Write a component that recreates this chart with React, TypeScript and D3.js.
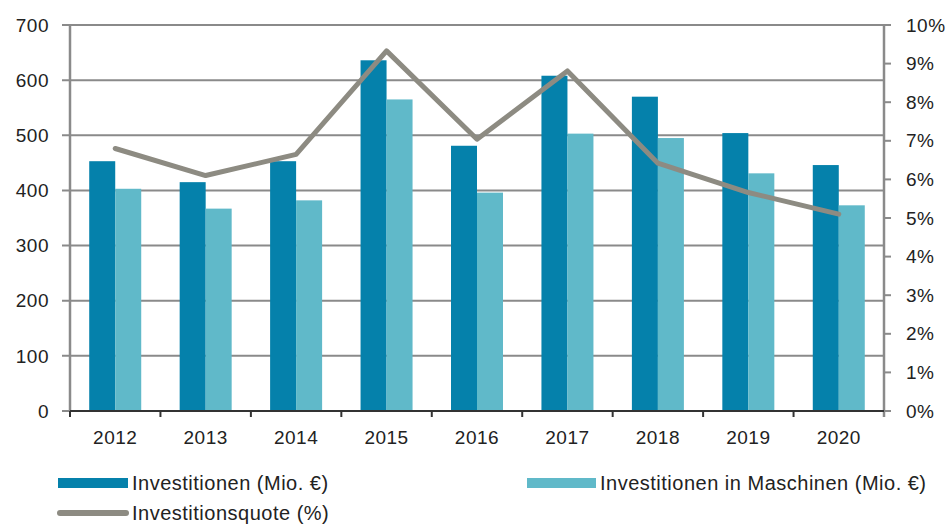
import React from "react";
import * as d3 from "d3";

const years = ["2012", "2013", "2014", "2015", "2016", "2017", "2018", "2019", "2020"];
const investitionen = [453, 415, 453, 636, 481, 608, 570, 504, 446];
const maschinen = [403, 367, 382, 565, 396, 503, 495, 431, 373];
const quote = [6.8, 6.1, 6.65, 9.33, 7.04, 8.81, 6.42, 5.66, 5.1];
const leftTicks = [0, 100, 200, 300, 400, 500, 600, 700];
const rightTicks = [0, 1, 2, 3, 4, 5, 6, 7, 8, 9, 10];

const W = 950, H = 524;
const M = { left: 70, right: 884, top: 25, bottom: 411 };
const DARK = "#0581ab";
const LIGHT = "#60b9c9";
const LINE = "#8d8b82";
const GRID = "#8a8a8a";
const FONT = "'Liberation Sans', Arial, sans-serif";

export default function App() {
  const x = d3.scaleBand().domain(years).range([M.left, M.right]).paddingInner(0).paddingOuter(0);
  const y = d3.scaleLinear().domain([0, 700]).range([M.bottom, M.top]);
  const y2 = d3.scaleLinear().domain([0, 10]).range([M.bottom, M.top]);
  const bw = x.bandwidth();
  const barW = 26;
  const groupW = barW * 2;
  const off = (bw - groupW) / 2;
  const line = d3
    .line<number>()
    .x((_, i) => (x(years[i]) as number) + bw / 2)
    .y((d) => y2(d));

  const textStyle = { fontFamily: FONT, fontSize: 19, fill: "#222", letterSpacing: 0.5 } as const;
  const legendStyle = { fontFamily: FONT, fontSize: 20, fill: "#222", letterSpacing: 0.5 } as const;

  return (
    <svg width={W} height={H} style={{ position: "absolute", left: 0, top: 0, background: "#fff" }}>
      {/* gridlines */}
      {leftTicks.map((t) => (
        <line key={t} x1={M.left - 8} x2={M.right} y1={y(t)} y2={y(t)} stroke={GRID} strokeWidth={2} />
      ))}
      {/* bars */}
      {years.map((yr, i) => (
        <g key={yr}>
          <rect x={(x(yr) as number) + off} y={y(investitionen[i])} width={barW} height={M.bottom - y(investitionen[i])} fill={DARK} />
          <rect x={(x(yr) as number) + off + barW} y={y(maschinen[i])} width={barW} height={M.bottom - y(maschinen[i])} fill={LIGHT} />
        </g>
      ))}
      {/* axes */}
      <line x1={M.left} x2={M.left} y1={M.top} y2={M.bottom} stroke={GRID} strokeWidth={2.5} />
      <line x1={M.right} x2={M.right} y1={M.top} y2={M.bottom + 6} stroke={GRID} strokeWidth={2.5} />
      {rightTicks.map((t) => (
        <line key={t} x1={M.right} x2={M.right + 7} y1={y2(t)} y2={y2(t)} stroke={GRID} strokeWidth={2} />
      ))}
      <line x1={M.left} x2={M.right} y1={M.bottom} y2={M.bottom} stroke="#333" strokeWidth={2} />
      {years.map((yr) => (
        <line key={yr} x1={x(yr) as number} x2={x(yr) as number} y1={M.bottom} y2={M.bottom + 6} stroke="#333" strokeWidth={2} />
      ))}
      {/* line */}
      <path d={line(quote) || ""} fill="none" stroke={LINE} strokeWidth={5} strokeLinejoin="round" strokeLinecap="round" />
      {/* labels */}
      {leftTicks.map((t) => (
        <text key={t} x={49} y={y(t)} dy="0.35em" textAnchor="end" style={textStyle}>{t}</text>
      ))}
      {rightTicks.map((t) => (
        <text key={t} x={906} y={y2(t)} dy="0.35em" textAnchor="start" style={textStyle}>{t}%</text>
      ))}
      {years.map((yr) => (
        <text key={yr} x={(x(yr) as number) + bw / 2} y={437} dy="0.35em" textAnchor="middle" style={textStyle}>{yr}</text>
      ))}
      {/* legend */}
      <rect x={58} y={478} width={70} height={10} fill={DARK} />
      <text x={132} y={483} dy="0.35em" style={legendStyle}>Investitionen (Mio. €)</text>
      <rect x={527} y={478} width={69} height={10} fill={LIGHT} />
      <text x={600} y={483} dy="0.35em" style={legendStyle}>Investitionen in Maschinen (Mio. €)</text>
      <line x1={60} x2={126} y1={513} y2={513} stroke={LINE} strokeWidth={6} strokeLinecap="round" />
      <text x={132} y={513} dy="0.35em" style={legendStyle}>Investitionsquote (%)</text>
    </svg>
  );
}
